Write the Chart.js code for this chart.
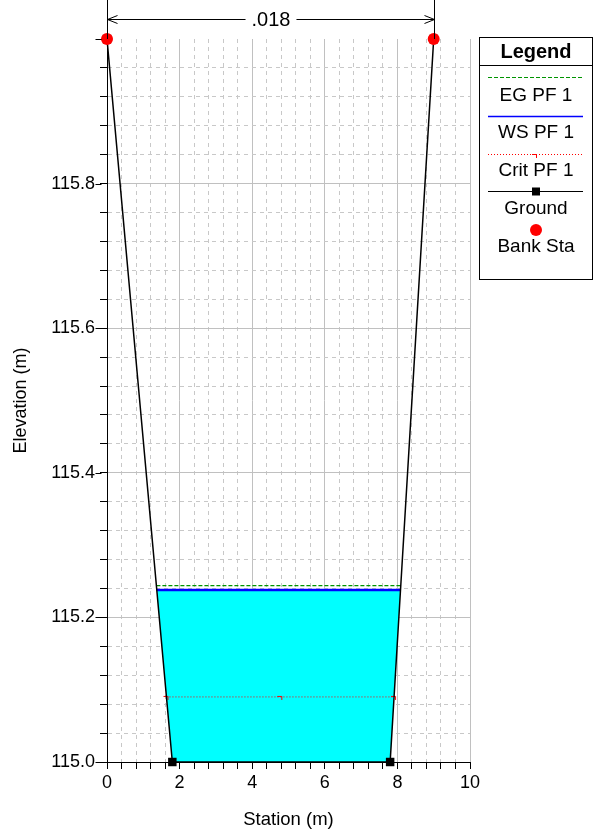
<!DOCTYPE html>
<html>
<head>
<meta charset="utf-8">
<script src="https://cdn.jsdelivr.net/npm/chart.js@4"></script>
<style>
html, body { margin: 0; padding: 0; background: #fff; }
</style>
</head>
<body>
<canvas id="xsChart" width="596" height="834"></canvas>
<script>
// cross section data
const groundSta = [0, 1.8, 7.8, 9.0];
const groundElev = [116.0, 115.0, 115.0, 116.0];
const bankSta = [0, 9.0];
const bankElev = [116.0, 116.0];
const wsElev = 115.238;
const egElev = 115.244;
const critElev = 115.09;
const manningN = '.018';
const legendLabels = ['EG PF 1', 'WS PF 1', 'Crit PF 1', 'Ground', 'Bank Sta'];

const xMin = 0, xMax = 10, xStep = 0.4, xMajor = 2;
const yMin = 115.0, yMax = 116.0, yStep = 0.04, yMajor = 0.2;

const FONT = "'Liberation Sans', Arial, sans-serif";
const EG_GREEN = '#009400';

// where the ground crosses a given elevation (left and right bank)
function crossing(elev) {
    let left = null, right = null;
    for (let i = 0; i < groundSta.length - 1; i++) {
        const e1 = groundElev[i], e2 = groundElev[i + 1];
        if (e1 !== e2 && (e1 - elev) * (e2 - elev) <= 0) {
            const x = groundSta[i] + (elev - e1) / (e2 - e1) * (groundSta[i + 1] - groundSta[i]);
            if (left === null) left = x; else right = x;
        }
    }
    return [left, right];
}

function levelLine(elev) {
    const [l, r] = crossing(elev);
    return [{x: l, y: elev}, {x: r, y: elev}];
}

const wsEnds = crossing(wsElev);
const waterPoly = [{x: wsEnds[0], y: wsElev}];
groundSta.forEach((s, i) => {
    if (groundElev[i] < wsElev) waterPoly.push({x: s, y: groundElev[i]});
});
waterPoly.push({x: wsEnds[1], y: wsElev});

const critEnds = crossing(critElev);
const critPts = [
    {x: critEnds[0], y: critElev},
    {x: (critEnds[0] + critEnds[1]) / 2, y: critElev},
    {x: critEnds[1], y: critElev}
];

// little red crit marker
const critMark = document.createElement('canvas');
critMark.width = 8; critMark.height = 8;
(function () {
    const c = critMark.getContext('2d');
    c.strokeStyle = '#ff0000';
    c.lineWidth = 1;
    c.beginPath();
    c.moveTo(1, 3.5); c.lineTo(5.5, 3.5); c.lineTo(5.5, 7);
    c.stroke();
})();

function isMajor(v, min, step, major) {
    const n = Math.round((v - min) / step);
    return n % Math.round(major / step) === 0;
}

const annotate = {
    id: 'annotate',
    afterDraw(chart) {
        const ctx = chart.ctx;
        const xs = chart.scales.x;
        const ys = chart.scales.y;
        const top = chart.chartArea.top;
        const x0 = Math.round(xs.getPixelForValue(bankSta[0])) + 0.5;
        const x1 = Math.round(xs.getPixelForValue(bankSta[1])) + 0.5;
        const yA = 19.5;
        ctx.save();
        ctx.strokeStyle = '#000';
        ctx.lineWidth = 1;

        // longer ticks on the major elevations
        const ax = Math.round(chart.chartArea.left) + 0.5;
        ctx.beginPath();
        ys.ticks.forEach(t => {
            if (isMajor(t.value, yMin, yStep, yMajor)) {
                const py = Math.round(ys.getPixelForValue(t.value)) + 0.5;
                ctx.moveTo(ax - 12, py); ctx.lineTo(ax - 6, py);
            }
        });
        ctx.stroke();

        ctx.beginPath();
        ctx.moveTo(x0, 0); ctx.lineTo(x0, top);
        ctx.moveTo(x1, 0); ctx.lineTo(x1, top);
        ctx.stroke();
        ctx.font = '20px ' + FONT;
        const mid = (x0 + x1) / 2;
        const tw = ctx.measureText(manningN).width;
        ctx.beginPath();
        ctx.moveTo(x0, yA); ctx.lineTo(mid - tw / 2 - 6, yA);
        ctx.moveTo(mid + tw / 2 + 6, yA); ctx.lineTo(x1, yA);
        // arrow heads
        ctx.moveTo(x0 + 10, yA - 4); ctx.lineTo(x0, yA); ctx.lineTo(x0 + 10, yA + 4);
        ctx.moveTo(x1 - 10, yA - 4); ctx.lineTo(x1, yA); ctx.lineTo(x1 - 10, yA + 4);
        ctx.stroke();
        ctx.fillStyle = '#000';
        ctx.textAlign = 'center';
        ctx.textBaseline = 'middle';
        ctx.fillText(manningN, mid, yA + 1);

        // legend box
        const L = 479.5, R = 592.5, T = 37.5, B = 279.5;
        const cx = (L + R) / 2;
        ctx.strokeRect(L, T, R - L, B - T);
        ctx.beginPath();
        ctx.moveTo(L, 65.5); ctx.lineTo(R, 65.5);
        ctx.stroke();
        ctx.font = 'bold 20px ' + FONT;
        ctx.fillText('Legend', cx, 52);
        ctx.font = '19px ' + FONT;
        const sx0 = 488, sx1 = 583;
        // EG
        ctx.strokeStyle = EG_GREEN;
        ctx.setLineDash([4, 2]);
        ctx.beginPath(); ctx.moveTo(sx0, 77.5); ctx.lineTo(sx1, 77.5); ctx.stroke();
        // WS
        ctx.setLineDash([]);
        ctx.strokeStyle = '#0000ff';
        ctx.lineWidth = 1.5;
        ctx.beginPath(); ctx.moveTo(sx0, 116.5); ctx.lineTo(sx1, 116.5); ctx.stroke();
        // Crit
        ctx.lineWidth = 1;
        ctx.strokeStyle = '#ff0000';
        ctx.setLineDash([1, 2]);
        ctx.beginPath(); ctx.moveTo(sx0, 154.5); ctx.lineTo(sx1, 154.5); ctx.stroke();
        ctx.setLineDash([]);
        ctx.drawImage(critMark, cx - 5, 151);
        // Ground
        ctx.strokeStyle = '#000';
        ctx.beginPath(); ctx.moveTo(sx0, 191.5); ctx.lineTo(sx1, 191.5); ctx.stroke();
        ctx.fillStyle = '#000';
        ctx.fillRect(cx - 4, 187.5, 8, 8);
        // Bank
        ctx.fillStyle = '#ff0000';
        ctx.beginPath(); ctx.arc(cx, 230, 6, 0, Math.PI * 2); ctx.fill();
        ctx.fillStyle = '#000';
        const labelY = [96, 133, 171, 209, 247];
        legendLabels.forEach((t, i) => ctx.fillText(t, cx, labelY[i]));
        ctx.restore();
    }
};

function gridColor(ctx, min, step, major, max) {
    if (!ctx.tick) return '#c0c0c0';
    if (Math.abs(ctx.tick.value - max) < 1e-6 && max === yMax) return 'rgba(0,0,0,0)';
    return isMajor(ctx.tick.value, min, step, major) ? '#c0c0c0' : '#c8c8c8';
}
function gridDash(ctx, min, step, major) {
    if (!ctx.tick) return [];
    return isMajor(ctx.tick.value, min, step, major) ? [] : [4, 4];
}

new Chart(document.getElementById('xsChart'), {
    type: 'scatter',
    data: {
        datasets: [
            {
                label: 'Bank Sta',
                data: bankSta.map((s, i) => ({x: s, y: bankElev[i]})),
                pointStyle: 'circle',
                pointRadius: 6,
                backgroundColor: '#ff0000',
                borderColor: '#ff0000',
                borderWidth: 0,
                showLine: false,
                clip: false,
                order: 0
            },
            {
                label: 'Ground',
                data: groundSta.map((s, i) => ({x: s, y: groundElev[i]})),
                showLine: true,
                borderColor: '#000',
                borderWidth: 1.5,
                pointStyle: 'rect',
                pointRadius: 6,
                pointBorderWidth: 0,
                backgroundColor: '#000',
                clip: false,
                order: 1
            },
            {
                label: 'WS PF 1',
                data: levelLine(wsElev),
                showLine: true,
                borderColor: '#0000ff',
                borderWidth: 2.5,
                pointRadius: 0,
                order: 2
            },
            {
                label: 'EG PF 1',
                data: levelLine(egElev),
                showLine: true,
                borderColor: EG_GREEN,
                borderWidth: 1.3,
                borderDash: [4, 2],
                pointRadius: 0,
                order: 3
            },
            {
                label: 'Crit PF 1',
                data: critPts,
                showLine: true,
                borderColor: '#ff0000',
                borderWidth: 1,
                borderDash: [1, 2],
                pointStyle: critMark,
                pointRadius: 4,
                order: 4
            },
            {
                label: 'water',
                data: waterPoly,
                showLine: true,
                borderWidth: 0,
                borderColor: 'rgba(0,0,0,0)',
                backgroundColor: '#00ffff',
                fill: {value: wsElev},
                pointRadius: 0,
                order: 5
            }
        ]
    },
    options: {
        responsive: false,
        animation: false,
        events: [],
        layout: {padding: {left: 0, top: 39, right: 126, bottom: 0}},
        plugins: {
            legend: {display: false},
            tooltip: {enabled: false}
        },
        scales: {
            x: {
                type: 'linear',
                min: xMin,
                max: xMax,
                afterFit: s => { s.height = 72; },
                ticks: {
                    stepSize: xStep,
                    maxTicksLimit: 100,
                    autoSkip: false,
                    maxRotation: 0,
                    padding: 3,
                    color: '#000',
                    font: {family: FONT, size: 18},
                    callback: v => isMajor(v, xMin, xStep, xMajor) ? String(Math.round(v)) : ''
                },
                grid: {
                    color: c => gridColor(c, xMin, xStep, xMajor, xMax),
                    tickColor: '#000',
                    tickLength: 7,
                    tickBorderDash: []
                },
                border: {
                    color: '#000',
                    width: 1,
                    dash: c => gridDash(c, xMin, xStep, xMajor)
                },
                title: {
                    display: true,
                    text: 'Station (m)',
                    color: '#000',
                    font: {family: FONT, size: 18.5},
                    padding: {top: 0, bottom: 3}
                }
            },
            y: {
                type: 'linear',
                min: yMin,
                max: yMax,
                afterFit: s => { s.width = 107; },
                ticks: {
                    stepSize: yStep,
                    maxTicksLimit: 100,
                    autoSkip: false,
                    padding: 5,
                    color: '#000',
                    font: {family: FONT, size: 18},
                    callback: v => (isMajor(v, yMin, yStep, yMajor) && v < yMax - 1e-6) ? v.toFixed(1) : ''
                },
                grid: {
                    color: c => gridColor(c, yMin, yStep, yMajor, yMax),
                    tickColor: '#000',
                    tickLength: 7,
                    tickBorderDash: []
                },
                border: {
                    color: '#000',
                    width: 1,
                    dash: c => gridDash(c, yMin, yStep, yMajor)
                },
                title: {
                    display: true,
                    text: 'Elevation (m)',
                    color: '#000',
                    font: {family: FONT, size: 18},
                    padding: {top: 10, bottom: 0}
                }
            }
        }
    },
    plugins: [annotate]
});
</script>
</body>
</html>
